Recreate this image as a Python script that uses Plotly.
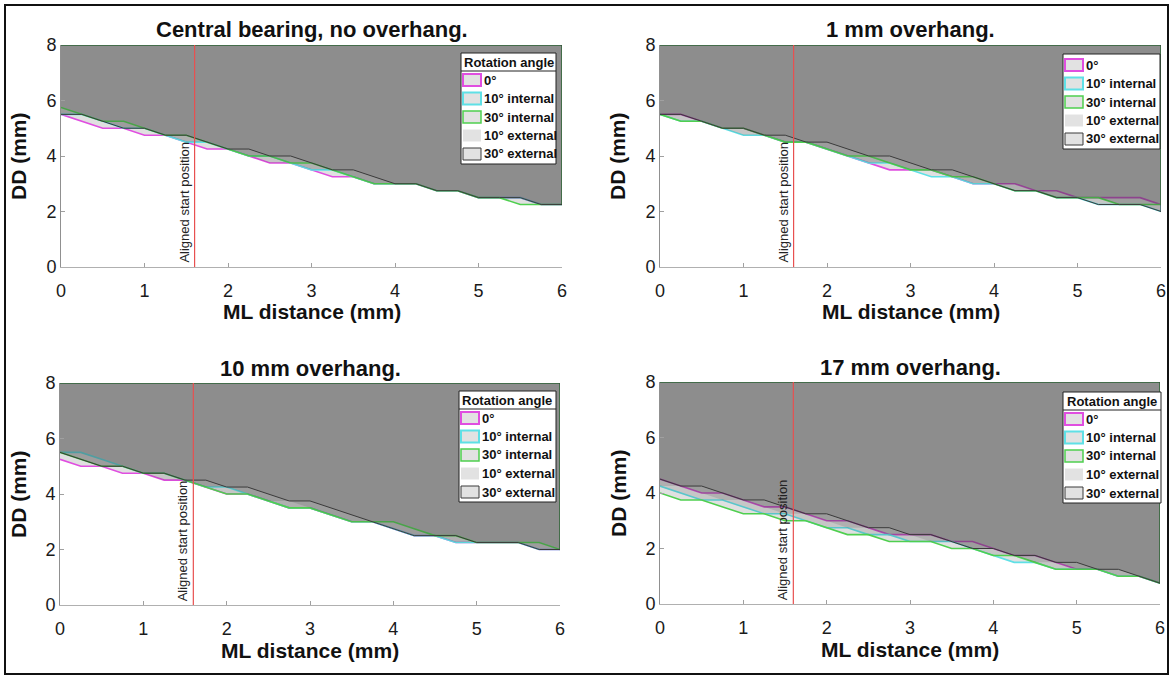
import plotly.graph_objects as go

W, H = 1174, 679

# ---------------- data ----------------
ML = [0, 0.25, 0.5, 0.75, 1.0, 1.25, 1.5, 1.75, 2.0, 2.25, 2.5, 2.75, 3.0,
      3.25, 3.5, 3.75, 4.0, 4.25, 4.5, 4.75, 5.0, 5.25, 5.5, 5.75, 6.0]
ANGLES = ["0°", "10° internal", "30° internal", "10° external", "30° external"]
TITLES = ["Central bearing, no overhang.", "1 mm overhang.",
          "10 mm overhang.", "17 mm overhang."]
ALIGNED_X = 1.6
Y_MAX = 8

# Central bearing, no overhang
cb_0   = [5.5, 5.25, 5.0, 5.0, 4.75, 4.75, 4.5, 4.25, 4.25, 4.0, 3.75, 3.75, 3.5, 3.25, 3.25, 3.0, 3.0, 3.0, 2.75, 2.75, 2.5, 2.5, 2.5, 2.25, 2.25]
cb_10i = [5.5, 5.5, 5.25, 5.0, 5.0, 4.75, 4.5, 4.5, 4.25, 4.0, 4.0, 3.75, 3.5, 3.5, 3.25, 3.0, 3.0, 3.0, 2.75, 2.75, 2.5, 2.5, 2.5, 2.25, 2.25]
cb_30i = [5.75, 5.5, 5.25, 5.25, 5.0, 4.75, 4.75, 4.5, 4.25, 4.0, 4.0, 3.75, 3.75, 3.5, 3.25, 3.0, 3.0, 3.0, 2.75, 2.75, 2.5, 2.5, 2.25, 2.25, 2.25]
cb_10e = [5.5, 5.5, 5.25, 5.0, 5.0, 4.75, 4.5, 4.5, 4.25, 4.0, 3.75, 3.75, 3.5, 3.5, 3.25, 3.0, 3.0, 3.0, 2.75, 2.75, 2.5, 2.5, 2.5, 2.25, 2.25]
cb_30e = [5.5, 5.5, 5.25, 5.0, 5.0, 4.75, 4.75, 4.5, 4.25, 4.25, 4.0, 4.0, 3.75, 3.5, 3.5, 3.25, 3.0, 3.0, 2.75, 2.75, 2.5, 2.5, 2.5, 2.25, 2.25]

# 1 mm overhang
o1_0   = [5.5, 5.5, 5.25, 5.0, 5.0, 4.75, 4.5, 4.5, 4.25, 4.0, 3.75, 3.5, 3.5, 3.5, 3.25, 3.0, 3.0, 3.0, 2.75, 2.75, 2.5, 2.5, 2.5, 2.5, 2.25]
o1_10i = [5.5, 5.25, 5.25, 5.0, 4.75, 4.75, 4.5, 4.5, 4.25, 4.0, 3.75, 3.75, 3.5, 3.25, 3.25, 3.0, 3.0, 2.75, 2.75, 2.5, 2.5, 2.25, 2.25, 2.25, 2.0]
o1_30i = [5.5, 5.25, 5.25, 5.0, 5.0, 4.75, 4.5, 4.5, 4.25, 4.0, 4.0, 3.75, 3.5, 3.5, 3.25, 3.25, 3.0, 2.75, 2.75, 2.5, 2.5, 2.5, 2.25, 2.25, 2.25]
o1_10e = [5.5, 5.5, 5.25, 5.0, 4.75, 4.75, 4.5, 4.5, 4.25, 4.0, 3.75, 3.75, 3.5, 3.5, 3.25, 3.0, 3.0, 3.0, 2.75, 2.5, 2.5, 2.5, 2.25, 2.25, 2.0]
o1_30e = [5.5, 5.5, 5.25, 5.0, 5.0, 4.75, 4.75, 4.5, 4.5, 4.25, 4.0, 4.0, 3.75, 3.5, 3.5, 3.25, 3.0, 2.75, 2.75, 2.5, 2.5, 2.25, 2.25, 2.25, 2.0]

# 10 mm overhang
o10_0   = [5.25, 5.0, 5.0, 4.75, 4.75, 4.5, 4.5, 4.25, 4.0, 4.0, 3.75, 3.5, 3.5, 3.25, 3.0, 3.0, 2.75, 2.5, 2.5, 2.25, 2.25, 2.25, 2.25, 2.0, 2.0]
o10_10i = [5.5, 5.5, 5.25, 5.0, 4.75, 4.75, 4.5, 4.25, 4.25, 4.0, 3.75, 3.5, 3.5, 3.25, 3.0, 3.0, 2.75, 2.5, 2.5, 2.25, 2.25, 2.25, 2.25, 2.0, 2.0]
o10_30i = [5.5, 5.25, 5.0, 5.0, 4.75, 4.75, 4.5, 4.25, 4.0, 4.0, 3.75, 3.5, 3.5, 3.25, 3.0, 3.0, 3.0, 2.75, 2.5, 2.5, 2.25, 2.25, 2.25, 2.25, 2.0]
o10_10e = [5.5, 5.25, 5.0, 5.0, 4.75, 4.5, 4.5, 4.25, 4.25, 4.0, 3.75, 3.75, 3.5, 3.25, 3.0, 3.0, 2.75, 2.5, 2.5, 2.25, 2.25, 2.25, 2.25, 2.0, 2.0]
o10_30e = [5.5, 5.25, 5.0, 5.0, 4.75, 4.75, 4.5, 4.5, 4.25, 4.25, 4.0, 3.75, 3.75, 3.5, 3.25, 3.0, 2.75, 2.5, 2.5, 2.5, 2.25, 2.25, 2.25, 2.0, 2.0]

# 17 mm overhang
o17_0   = [4.5, 4.25, 4.0, 4.0, 3.75, 3.5, 3.5, 3.25, 3.0, 3.0, 2.75, 2.5, 2.5, 2.5, 2.25, 2.25, 2.0, 1.75, 1.75, 1.5, 1.25, 1.25, 1.0, 1.0, 0.75]
o17_10i = [4.25, 4.0, 3.75, 3.75, 3.5, 3.25, 3.25, 3.0, 2.75, 2.75, 2.5, 2.5, 2.25, 2.25, 2.25, 2.0, 1.75, 1.5, 1.5, 1.25, 1.25, 1.25, 1.0, 1.0, 0.75]
o17_30i = [4.0, 3.75, 3.75, 3.5, 3.25, 3.25, 3.0, 3.0, 2.75, 2.5, 2.5, 2.25, 2.25, 2.25, 2.0, 2.0, 1.75, 1.75, 1.5, 1.25, 1.25, 1.25, 1.0, 1.0, 0.75]
o17_10e = [4.25, 4.25, 4.0, 3.75, 3.75, 3.5, 3.25, 3.25, 3.0, 2.75, 2.75, 2.5, 2.5, 2.25, 2.25, 2.0, 2.0, 1.75, 1.5, 1.5, 1.25, 1.25, 1.25, 1.0, 0.75]
o17_30e = [4.5, 4.25, 4.25, 4.0, 3.75, 3.75, 3.5, 3.25, 3.25, 3.0, 2.75, 2.75, 2.5, 2.5, 2.25, 2.0, 2.0, 1.75, 1.75, 1.5, 1.5, 1.25, 1.25, 1.0, 0.75]

PANELS = [
    [cb_0, cb_10i, cb_30i, cb_10e, cb_30e],
    [o1_0, o1_10i, o1_30i, o1_10e, o1_30e],
    [o10_0, o10_10i, o10_30i, o10_10e, o10_30e],
    [o17_0, o17_10i, o17_30i, o17_10e, o17_30e],
]

# ---------------- styles ----------------
EDGE_COLORS = ["#e04ee0", "#5fe0e6", "#4fcf4f", "rgba(0,0,0,0)", "#3a3a3a"]
EDGE_WIDTHS = [1.6, 1.6, 1.6, 0, 1.0]
SWATCH_EDGE_W = [2, 2, 1.5, 0, 1]
FILL = "rgba(60,60,60,0.16)"
SWATCH_FILL = "#e2e2e2"
FONT = "Liberation Sans, Arial, Helvetica, sans-serif"

# panel boxes in pixels: (left, right, top, bottom)
BOX = [(61, 562, 45, 267), (660, 1161, 45, 267), (60, 560, 383, 605), (660, 1160, 382, 604)]
# legend boxes in pixels: (left, right, top, has_title)
LEG = [(461, 556, 53, True), (1063, 1160, 54, False), (459, 556, 391, True), (1063, 1161, 392, True)]
ROW_H = 18.5


def px(x):
    return x / W


def py(y):
    return 1 - y / H


fig = go.Figure()
annotations, shapes = [], []
layout = dict(
    width=W, height=H,
    margin=dict(l=0, r=0, t=0, b=0, autoexpand=False),
    paper_bgcolor="white", plot_bgcolor="white",
    font=dict(family=FONT, color="#1a1a1a"),
    showlegend=False,
)

for i, series in enumerate(PANELS):
    k = i + 1
    xa = "x" if k == 1 else f"x{k}"
    ya = "y" if k == 1 else f"y{k}"
    for j, vals in enumerate(series):
        xs = list(ML) + [ML[-1], ML[0]]
        ys = list(vals) + [Y_MAX, Y_MAX]
        fig.add_trace(go.Scatter(
            x=xs, y=ys, mode="lines", fill="toself", fillcolor=FILL,
            line=dict(color=EDGE_COLORS[j], width=EDGE_WIDTHS[j]),
            name=ANGLES[j], xaxis=xa, yaxis=ya, hoverinfo="skip",
        ))
    # aligned start position line
    fig.add_trace(go.Scatter(
        x=[ALIGNED_X, ALIGNED_X], y=[0, Y_MAX], mode="lines",
        line=dict(color="#e85050", width=1.2), xaxis=xa, yaxis=ya,
        hoverinfo="skip", name="Aligned start position",
    ))
    l, r, t, b = BOX[i]
    axkey = "xaxis" if k == 1 else f"xaxis{k}"
    aykey = "yaxis" if k == 1 else f"yaxis{k}"
    layout[axkey] = dict(
        domain=[px(l), px(r)], anchor=ya, range=[0, 6], tickvals=[0, 1, 2, 3, 4, 5, 6],
        showgrid=False, zeroline=False, showline=True, linecolor="#b0b0b0", linewidth=1,
        ticks="inside", ticklen=4, tickcolor="#a0a0a0", automargin=False,
        tickfont=dict(size=18, family=FONT, color="#1a1a1a"), ticklabelstandoff=7,
    )
    layout[aykey] = dict(
        domain=[py(b), py(t)], anchor=xa, range=[0, Y_MAX], tickvals=[0, 2, 4, 6, 8],
        showgrid=False, zeroline=False, showline=True, linecolor="#909090", linewidth=1,
        ticks="inside", ticklen=4, tickcolor="#a0a0a0", automargin=False,
        tickfont=dict(size=18, family=FONT, color="#1a1a1a"),
    )

    # panel title
    annotations.append(dict(
        text=f"<b>{TITLES[i]}</b>", xref="paper", yref="paper",
        x=px((l + r) / 2), y=py(t - 15), xanchor="center", yanchor="middle",
        showarrow=False, font=dict(size=22, family=FONT, color="#111"),
    ))
    # x title
    annotations.append(dict(
        text="<b>ML distance (mm)</b>", xref="paper", yref="paper",
        x=px((l + r) / 2), y=py(b + 45), xanchor="center", yanchor="middle",
        showarrow=False, font=dict(size=21, family=FONT, color="#111"),
    ))
    # y title
    annotations.append(dict(
        text="<b>DD (mm)</b>", xref="paper", yref="paper",
        x=px(l - 42), y=py((t + b) / 2), xanchor="center", yanchor="middle",
        textangle=-90, showarrow=False, font=dict(size=21, family=FONT, color="#111"),
    ))
    # aligned start label
    annotations.append(dict(
        text="Aligned start position", xref=xa, yref=ya, x=ALIGNED_X, y=0,
        xanchor="right", yanchor="bottom", textangle=-90, showarrow=False,
        xshift=-1, yshift=2, font=dict(size=13, family=FONT, color="#222"),
    ))

    # legend (drawn box, swatches and labels)
    ll, lr, lt, has_title = LEG[i]
    first = lt + (27 if has_title else 11)
    lb = first + 4 * ROW_H + 10
    shapes.append(dict(
        type="rect", xref="paper", yref="paper", x0=px(ll), x1=px(lr), y0=py(lb), y1=py(lt),
        line=dict(color="#222", width=1), fillcolor="white",
    ))
    if has_title:
        annotations.append(dict(
            text="<b>Rotation angle</b>", xref="paper", yref="paper",
            x=px((ll + lr) / 2), y=py(lt + 9), xanchor="center", yanchor="middle",
            showarrow=False, font=dict(size=13, family=FONT, color="#111"),
        ))
        shapes.append(dict(
            type="line", xref="paper", yref="paper", x0=px(ll), x1=px(lr),
            y0=py(lt + 18), y1=py(lt + 18), line=dict(color="#222", width=1),
        ))
    for j, name in enumerate(ANGLES):
        cy = first + j * ROW_H
        shapes.append(dict(
            type="rect", xref="paper", yref="paper",
            x0=px(ll + 2), x1=px(ll + 20), y0=py(cy + 6), y1=py(cy - 6),
            fillcolor=SWATCH_FILL,
            line=dict(color=EDGE_COLORS[j], width=SWATCH_EDGE_W[j]),
        ))
        annotations.append(dict(
            text=f"<b>{name}</b>", xref="paper", yref="paper",
            x=px(ll + 21), y=py(cy), xanchor="left", yanchor="middle",
            showarrow=False, font=dict(size=13, family=FONT, color="#111"),
        ))

# outer frame
shapes.append(dict(
    type="rect", xref="paper", yref="paper", x0=px(5), x1=px(1168), y0=py(674), y1=py(5),
    line=dict(color="#111", width=2), fillcolor="rgba(0,0,0,0)",
))

layout["annotations"] = annotations
layout["shapes"] = shapes
fig.update_layout(**layout)
fig.write_html("out.html", post_script="document.body.style.margin='0';document.body.style.overflow='hidden';")
